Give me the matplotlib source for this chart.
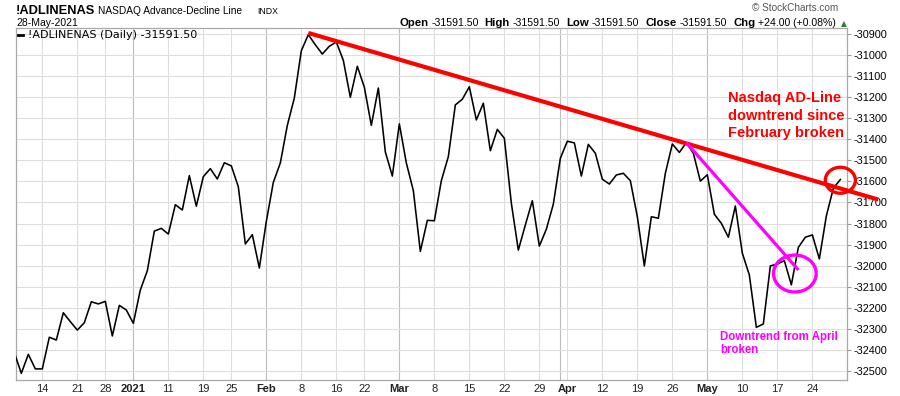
import numpy as np
import pandas as pd
import matplotlib.pyplot as plt
from matplotlib.patches import Ellipse
from matplotlib.lines import Line2D

plt.rcParams['axes.unicode_minus'] = False
plt.rcParams['font.family'] = ['Liberation Sans', 'DejaVu Sans']

# trading days shown (NYSE holidays removed)
HOLIDAYS = ['2020-12-25', '2021-01-01', '2021-01-18', '2021-02-15', '2021-04-02']
dates = pd.bdate_range('2020-12-08', '2021-05-28')
dates = dates[~dates.isin(pd.to_datetime(HOLIDAYS))]

# Nasdaq A/D line daily closes
ad_line = [
    -32412, -32510, -32420, -32489, -32489, -32339, -32352, -32223, -32265, -32305,
    -32270, -32171, -32181, -32169, -32333, -32188, -32210, -32273, -32115, -32024,
    -31836, -31823, -31850, -31711, -31736, -31573, -31718, -31578, -31540, -31589,
    -31512, -31527, -31626, -31897, -31853, -32011, -31790, -31605, -31513, -31335,
    -31205, -30981, -30905, -30953, -30997, -30960, -30940, -31027, -31202, -31055,
    -31154, -31335, -31158, -31461, -31575, -31328, -31513, -31644, -31932, -31785,
    -31787, -31597, -31483, -31238, -31211, -31152, -31309, -31230, -31455, -31354,
    -31396, -31704, -31926, -31807, -31692, -31907, -31827, -31708, -31491, -31410,
    -31418, -31575, -31425, -31467, -31590, -31613, -31570, -31562, -31597, -31768,
    -32001, -31768, -31775, -31562, -31423, -31463, -31417, -31467, -31599, -31569,
    -31756, -31799, -31865, -31717, -31941, -32044, -32292, -32276, -32001, -31992,
    -31976, -32091, -31913, -31865, -31854, -31968, -31764, -31633, -31591.5,
]

tick_dates = ['2020-12-14', '2020-12-21', '2020-12-28', '2021-01-04', '2021-01-11',
              '2021-01-19', '2021-01-25', '2021-02-01', '2021-02-08', '2021-02-16',
              '2021-02-22', '2021-03-01', '2021-03-08', '2021-03-15', '2021-03-22',
              '2021-03-29', '2021-04-01', '2021-04-05', '2021-04-12', '2021-04-19',
              '2021-04-26', '2021-05-03', '2021-05-10', '2021-05-17', '2021-05-24']
tick_labels = ['14', '21', '28', '2021', '11', '19', '25', 'Feb', '8', '16', '22', 'Mar',
               '8', '15', '22', '29', '', 'Apr', '12', '19', '26', 'May', '10', '17', '24']
month_starts = ['2021-01-04', '2021-02-01', '2021-03-01', '2021-04-01', '2021-05-03']

# hand-drawn annotations
red_trend_dates = ['2021-02-09', '2021-05-28']
red_trend_values = [-30897, -31634]
red_trend_extend = 5.4          # trading days past last bar
mag_trend_dates = ['2021-04-28', '2021-05-20']
mag_trend_values = [-31417, -32020]
red_circle = ('2021-05-28', -31595)
mag_circle = ('2021-05-19', -32037)


def pos(d):
    return dates.get_loc(pd.Timestamp(d))


W, H = 900, 396
fig = plt.figure(figsize=(W / 100, H / 100), dpi=100)
ax = fig.add_axes([16 / W, 1 - 380 / H, (847 - 16) / W, (380 - 28) / H])

x = np.arange(len(dates))
ax.plot(x, ad_line, color='black', lw=1.15, zorder=3)

ax.set_xlim(0.24, 118.95)
ax.set_ylim(-32541.6, -30873.5)

# grid
ax.set_yticks(np.arange(-32500, -30899, 100))
ax.yaxis.tick_right()
ax.grid(axis='y', color='#dedede', lw=0.8, zorder=0)
for d in tick_dates:
    c = '#bcbcbc' if d in month_starts else '#dedede'
    ax.axvline(pos(d), color=c, lw=0.8, zorder=0)

ax.set_xticks([pos(d) for d in tick_dates])
ax.set_xticklabels(tick_labels)
for lab, txt in zip(ax.get_xticklabels(), tick_labels):
    if not txt.isdigit() or txt == '2021':
        lab.set_fontweight('bold')
ax.tick_params(axis='x', length=0, labelsize=8, pad=3, colors='#222222')
ax.tick_params(axis='y', length=3, labelsize=7.8, pad=2, color='#999999')
for s in ax.spines.values():
    s.set_color('#a8a8a8')
    s.set_linewidth(0.9)

# red downtrend line (runs past the axis)
rx = [pos(d) for d in red_trend_dates]
slope = (red_trend_values[1] - red_trend_values[0]) / (rx[1] - rx[0])
rx_end = rx[1] + red_trend_extend
ax.plot([rx[0], rx_end], [red_trend_values[0], red_trend_values[1] + slope * red_trend_extend],
        color='#ff0000', lw=3.0, solid_capstyle='butt', clip_on=False, zorder=4)
mx = [pos(d) for d in mag_trend_dates]
ax.plot(mx, mag_trend_values, color='#ff00ff', lw=2.3, solid_capstyle='butt', zorder=4)

ax.add_patch(Ellipse((pos(red_circle[0]), red_circle[1]), 4.3, 123, fill=False,
                     ec='#ff0000', lw=2.4, clip_on=False, zorder=5))
ax.add_patch(Ellipse((pos(mag_circle[0]) + 0.5, mag_circle[1]), 6.1, 175, fill=False,
                     ec='#ff00ff', lw=2.4, zorder=5))

fig.text(728 / W, 1 - 91 / H, 'Nasdaq AD-Line\ndowntrend since\nFebruary broken',
         color='#ff0000', fontsize=10.5, fontweight='bold', va='top', ha='left',
         linespacing=1.33)
fig.text(720 / W, 1 - 331 / H, 'Downtrend from April\nbroken', color='#ff00ff',
         fontsize=8.3, fontweight='bold', va='top', ha='left', linespacing=1.1)

# legend line
ax.add_line(Line2D([17 / W, 23 / W], [1 - 35 / H] * 2, transform=fig.transFigure,
                   color='black', lw=2))
fig.text(28 / W, 1 - 35 / H, '!ADLINENAS (Daily) -31591.50', family='DejaVu Sans',
         fontsize=8, va='center', ha='left')

# header
fig.text(16 / W, 1 - 14 / H, '!ADLINENAS', fontsize=9.3, fontweight='bold', va='baseline')
fig.text(98 / W, 1 - 14 / H, 'NASDAQ Advance-Decline Line', fontsize=7.3, va='baseline')
fig.text(257 / W, 1 - 14 / H, 'INDX', fontsize=6.3, va='baseline')
fig.text(16 / W, 1 - 26 / H, '28-May-2021', fontsize=7.5, va='baseline')
fig.text(838 / W, 1 - 11 / H, '\u00a9 StockCharts.com', fontsize=7.2, color='#555555',
         ha='right', va='baseline')

runs = [('Open', True, 3), ('-31591.50', False, 6), ('High', True, 3), ('-31591.50', False, 6),
        ('Low', True, 3), ('-31591.50', False, 6), ('Close', True, 3), ('-31591.50', False, 6),
        ('Chg', True, 3), ('+24.00 (+0.08%)', False, 3)]
r = fig.canvas.get_renderer()
xp = 839
fig.text(847 / W, 1 - 26 / H, '\u25b2', family='DejaVu Sans', fontsize=5.5, color='#2e7d32',
         ha='right', va='baseline')
for s, bold, gap in reversed(runs):
    xp -= gap
    t = fig.text(xp / W, 1 - 26 / H, s, fontsize=8.2 if bold else 7.6,
                 fontweight='bold' if bold else 'normal', ha='right', va='baseline')
    xp -= t.get_window_extent(renderer=r).width

fig.savefig('out.png', dpi=100)
